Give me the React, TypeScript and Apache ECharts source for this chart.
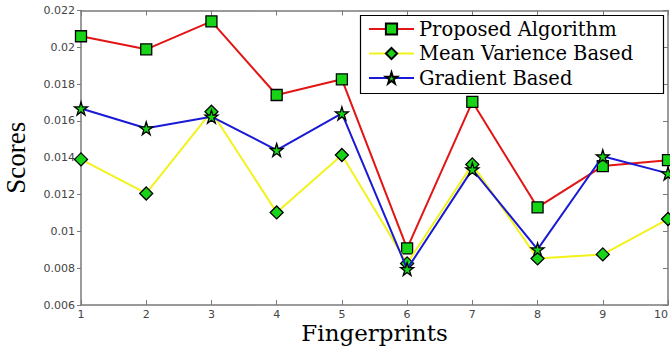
import React, { useEffect, useRef } from "react";
import * as echarts from "echarts";

const categories = ["1", "2", "3", "4", "5", "6", "7", "8", "9", "10"];
const proposed = [0.0206, 0.01989, 0.02141, 0.01741, 0.01826, 0.00908, 0.01704, 0.0113, 0.01355, 0.01387];
const meanVarience = [0.01391, 0.01206, 0.0165, 0.01103, 0.01415, 0.00826, 0.01364, 0.00853, 0.00875, 0.01067];
const gradient = [0.01668, 0.0156, 0.01623, 0.01442, 0.01641, 0.00795, 0.01337, 0.00902, 0.01408, 0.01315];
const yMin = 0.006;
const yMax = 0.022;
const yStep = 0.002;

const STAR = "path://M50,0 L61,35 L98,35 L68,57 L79,91 L50,70 L21,91 L32,57 L2,35 L39,35 Z";
const GREEN = "#17d417";
const AXIS_GRAY = "#7a7a7a";

export default function App() {
  const ref = useRef<HTMLDivElement>(null);
  useEffect(() => {
    if (!ref.current) return;
    const chart = echarts.init(ref.current, null, { renderer: "svg" });
    const fmt = (v: number) => String(Number(v.toFixed(4)));
    const markerStyle = { color: GREEN, borderColor: "#000", borderWidth: 1.3 };
    chart.setOption({
      animation: false,
      backgroundColor: "#fff",
      grid: { left: 81, right: 2, top: 10.5, bottom: 42, containLabel: false, outerBoundsMode: "none" },
      legend: {
        orient: "vertical",
        left: 368,
        top: 19,
        padding: 0,
        itemWidth: 45,
        itemHeight: 14,
        itemGap: 4.5,
        textStyle: { fontFamily: "DejaVu Serif", fontSize: 19.5, color: "#000", lineHeight: 20 },
        data: ["Proposed Algorithm", "Mean Varience Based", "Gradient Based"],
      },
      graphic: [
        {
          type: "rect",
          shape: { x: 360.5, y: 15.5, width: 303, height: 78 },
          style: { fill: "none", stroke: "#000", lineWidth: 1.2 },
          z: 100,
          silent: true,
        },
      ],
      xAxis: [
        {
          type: "category",
          data: categories,
          boundaryGap: false,
          position: "bottom",
          name: "Fingerprints",
          nameLocation: "middle",
          nameGap: 17,
          nameMoveOverlap: false,
          nameTextStyle: { fontFamily: "DejaVu Serif", fontSize: 23, lineHeight: 22, color: "#000" },
          axisLine: { lineStyle: { color: AXIS_GRAY, width: 1.5 } },
          axisTick: { inside: true, length: 5, lineStyle: { color: AXIS_GRAY } },
          axisLabel: { fontFamily: "DejaVu Sans", fontSize: 11, lineHeight: 12, color: "#444", margin: 3, alignMaxLabel: "right" },
          splitLine: { show: false },
        },
        {
          type: "category",
          data: categories,
          boundaryGap: false,
          position: "top",
          axisLine: { lineStyle: { color: AXIS_GRAY, width: 1.5 } },
          axisTick: { inside: true, length: 5, lineStyle: { color: AXIS_GRAY } },
          axisLabel: { show: false },
          splitLine: { show: false },
        },
      ],
      yAxis: [
        {
          type: "value",
          min: yMin,
          max: yMax,
          interval: yStep,
          position: "left",
          name: "Scores",
          nameLocation: "middle",
          nameGap: 52,
          nameMoveOverlap: false,
          nameTextStyle: { fontFamily: "Liberation Serif", fontSize: 27, color: "#000" },
          axisLine: { show: true, lineStyle: { color: AXIS_GRAY, width: 1.5 } },
          axisTick: { show: true, inside: false, length: 4, lineStyle: { color: AXIS_GRAY } },
          axisLabel: { fontFamily: "DejaVu Sans", fontSize: 11, color: "#444", margin: 6, formatter: fmt },
          splitLine: { show: false },
        },
        {
          type: "value",
          min: yMin,
          max: yMax,
          interval: yStep,
          position: "right",
          axisLine: { show: true, lineStyle: { color: AXIS_GRAY, width: 1.5 } },
          axisTick: { show: true, inside: true, length: 5, lineStyle: { color: AXIS_GRAY } },
          axisLabel: { show: false },
          splitLine: { show: false },
        },
      ],
      series: [
        {
          name: "Proposed Algorithm",
          type: "line",
          data: proposed,
          symbol: "rect",
          symbolSize: 11,
          showAllSymbol: true,
          lineStyle: { color: "#e31414", width: 2 },
          itemStyle: markerStyle,
          z: 2,
        },
        {
          name: "Mean Varience Based",
          type: "line",
          data: meanVarience,
          symbol: "diamond",
          symbolSize: 13,
          showAllSymbol: true,
          lineStyle: { color: "#f2f21c", width: 2 },
          itemStyle: markerStyle,
          z: 3,
        },
        {
          name: "Gradient Based",
          type: "line",
          data: gradient,
          symbol: STAR,
          symbolSize: 13,
          showAllSymbol: true,
          lineStyle: { color: "#1a1ad6", width: 2 },
          itemStyle: markerStyle,
          z: 4,
        },
      ],
    });
    return () => chart.dispose();
  }, []);
  return (
    <div
      ref={ref}
      style={{ position: "fixed", left: 0, top: 0, width: 670, height: 347, background: "#fff" }}
    />
  );
}
